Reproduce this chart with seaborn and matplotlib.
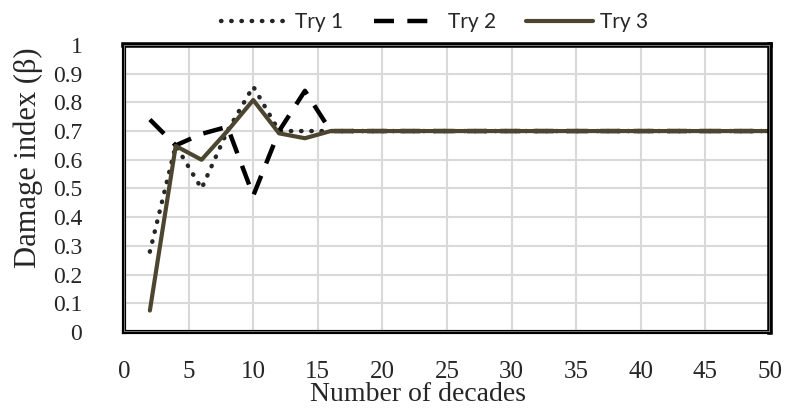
import pandas as pd
import matplotlib.pyplot as plt
import seaborn as sns

# values
decades = [2, 4, 6, 8, 10, 12, 14, 16, 18, 20, 22, 24, 26, 28, 30,
           32, 34, 36, 38, 40, 42, 44, 46, 48, 50]
try1 = [0.28, 0.65, 0.50, 0.70, 0.855, 0.70, 0.70, 0.70, 0.70, 0.70, 0.70, 0.70, 0.70,
        0.70, 0.70, 0.70, 0.70, 0.70, 0.70, 0.70, 0.70, 0.70, 0.70, 0.70, 0.70]
try2 = [0.74, 0.65, 0.69, 0.715, 0.475, 0.70, 0.84, 0.70, 0.70, 0.70, 0.70, 0.70, 0.70,
        0.70, 0.70, 0.70, 0.70, 0.70, 0.70, 0.70, 0.70, 0.70, 0.70, 0.70, 0.70]
try3 = [0.075, 0.648, 0.60, 0.70, 0.808, 0.692, 0.675, 0.70, 0.70, 0.70, 0.70, 0.70, 0.70,
        0.70, 0.70, 0.70, 0.70, 0.70, 0.70, 0.70, 0.70, 0.70, 0.70, 0.70, 0.70]

df = pd.DataFrame({"decades": decades, "Try 1": try1, "Try 2": try2, "Try 3": try3})

sns.set_style("white")

fig = plt.figure(figsize=(7.85, 4.08), dpi=100)
ax = fig.add_axes([0.158, 0.186, 0.823, 0.704])

sns.lineplot(data=df, x="decades", y="Try 1", ax=ax, color="#262626",
             linewidth=3.2, linestyle=(0, (0.1, 2.2)), dash_capstyle="round",
             label="Try 1")
sns.lineplot(data=df, x="decades", y="Try 2", ax=ax, color="black",
             linewidth=3.2, linestyle=(0, (4.5, 3)), label="Try 2")
sns.lineplot(data=df, x="decades", y="Try 3", ax=ax, color="#4c4631",
             linewidth=3, label="Try 3")

ax.set_xlim(0, 50)
ax.set_ylim(0, 1)
ax.set_xticks(range(0, 51, 5))
ax.set_yticks([i / 10 for i in range(11)])
ax.set_yticklabels(["0", "0.1", "0.2", "0.3", "0.4", "0.5", "0.6", "0.7", "0.8", "0.9", "1"])
ax.grid(True, color="#d9d9d9", linewidth=1.5)
ax.set_axisbelow(True)

for lab in ax.get_xticklabels():
    lab.set_family("Liberation Serif")
    lab.set_fontsize(18)
for lab in ax.get_yticklabels():
    lab.set_family("Liberation Serif")
    lab.set_fontsize(17)
ax.tick_params(axis="x", pad=21, length=0)
ax.tick_params(axis="y", pad=30, length=0)

ax.set_xlabel("Number of decades", family="Liberation Serif", fontsize=20)
ax.xaxis.set_label_coords(0.455, -0.172)
ax.set_ylabel("Damage index (β)", family="Liberation Serif", fontsize=22, va="center")
ax.yaxis.set_label_coords(-0.149, 0.606)

for s in ax.spines.values():
    s.set_color("black")
    s.set_linewidth(3)
ax.spines["top"].set_linewidth(4)
ax.spines["right"].set_linewidth(4)
# grey inner line of the frame
ax.add_patch(plt.Rectangle((0, 0), 1, 1, transform=ax.transAxes, fill=False,
                           edgecolor="#8c8c8c", linewidth=1.2, zorder=5))

ax.legend(loc="lower center", bbox_to_anchor=(0.481, 1.0), ncol=3, frameon=False,
          prop={"family": "Lato", "size": 15}, handlelength=3.2,
          columnspacing=1.45, handletextpad=0.35, borderaxespad=0.2)

fig.savefig("out.png", dpi=100)
